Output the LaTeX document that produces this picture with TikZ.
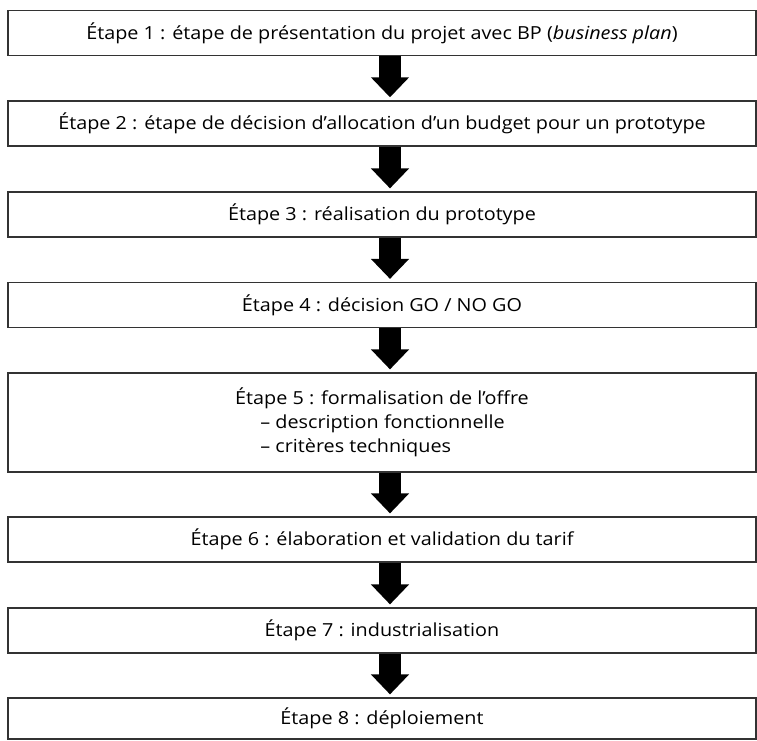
\documentclass[tikz,border=0pt]{standalone}
\usepackage{fontspec}
\setmainfont{Open Sans}[FakeStretch=1.1]
\usetikzlibrary{arrows.meta}

\begin{document}
\begin{tikzpicture}[x=1pt,y=-1pt,
    etape/.style={draw=black!80,line width=1.2pt,minimum width=748pt,minimum height=45pt,inner sep=0pt,font=\fontsize{18}{24}\selectfont},
    fleche/.style={line width=22pt,-{Triangle[width=37pt,length=20pt]},shorten >=3pt}]
    \useasboundingbox (0,0) rectangle (757,740);
    \coordinate (axe) at (390,0);
    \begin{scope}[every node/.style={etape}]
        \node (e1) at (382,33) {Étape 1 : étape de présentation du projet avec BP (\textit{business plan})};
        \node (e2) at (382,123.4) {Étape 2 : étape de décision d’allocation d’un budget pour un prototype};
        \node (e3) at (382,214.5) {Étape 3 : réalisation du prototype};
        \node (e4) at (382,305) {Étape 4 : décision GO / NO GO};
        \node[minimum height=99pt,align=left] (e5) at (382,422.5) {Étape 5 : formalisation de l’offre\\\hspace*{1.4em}– description fonctionnelle\\\hspace*{1.4em}– critères techniques};
        \node (e6) at (382,539.5) {Étape 6 : élaboration et validation du tarif};
        \node (e7) at (382,630.5) {Étape 7 : industrialisation};
        \node[minimum height=41pt] (e8) at (382,718.5) {Étape 8 : déploiement};
    \end{scope}
    \draw[fleche] (e1.south -| axe) -- (e2.north -| axe);
    \draw[fleche] (e2.south -| axe) -- (e3.north -| axe);
    \draw[fleche] (e3.south -| axe) -- (e4.north -| axe);
    \draw[fleche] (e4.south -| axe) -- (e5.north -| axe);
    \draw[fleche] (e5.south -| axe) -- (e6.north -| axe);
    \draw[fleche] (e6.south -| axe) -- (e7.north -| axe);
    \draw[fleche] (e7.south -| axe) -- (e8.north -| axe);
\end{tikzpicture}
\end{document}
